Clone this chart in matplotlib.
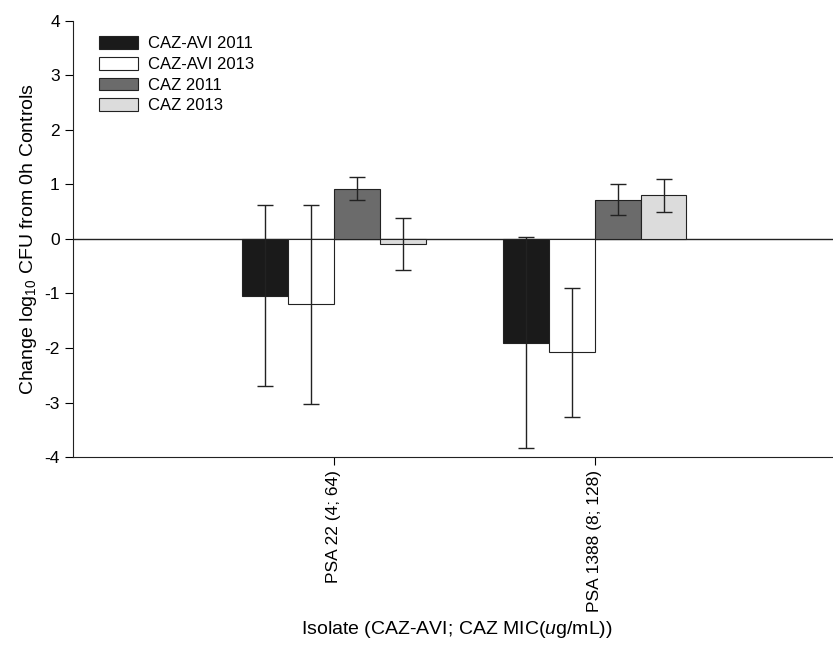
import numpy as np
import matplotlib.pyplot as plt

plt.rcParams['font.family'] = ['Liberation Sans', 'DejaVu Sans']
plt.rcParams['mathtext.fontset'] = 'custom'
plt.rcParams['mathtext.rm'] = 'Liberation Sans'
plt.rcParams['mathtext.it'] = 'Liberation Sans:italic'
plt.rcParams['axes.unicode_minus'] = False

isolates = ["PSA 22 (4; 64)", "PSA 1388 (8; 128)"]
series = ["CAZ-AVI 2011", "CAZ-AVI 2013", "CAZ 2011", "CAZ 2013"]
colors = ["#1a1a1a", "#ffffff", "#6b6b6b", "#dcdcdc"]

caz_avi_2011 = [-1.04, -1.90]
caz_avi_2013 = [-1.20, -2.08]
caz_2011 = [0.92, 0.72]
caz_2013 = [-0.09, 0.80]

err_caz_avi_2011 = [1.66, 1.93]
err_caz_avi_2013 = [1.83, 1.18]
err_caz_2011 = [0.21, 0.28]
err_caz_2013 = [0.48, 0.30]

values = [caz_avi_2011, caz_avi_2013, caz_2011, caz_2013]
errors = [err_caz_avi_2011, err_caz_avi_2013, err_caz_2011, err_caz_2013]

fig = plt.figure(figsize=(8.33, 6.52), dpi=100)
ax = fig.add_axes([0.0876, 0.299, 0.93, 0.669])

x = np.arange(1, len(isolates) + 1)
width = 0.176
offsets = [-1.5, -0.5, 0.5, 1.5]
for vals, errs, col, lab, off in zip(values, errors, colors, series, offsets):
    ax.bar(x + off * width, vals, width, color=col, edgecolor="#222222",
           linewidth=0.8, label=lab, zorder=2)
    ax.errorbar(x + off * width, vals, yerr=errs, fmt="none", ecolor="#222222",
                elinewidth=1, capsize=6, capthick=1, zorder=3)

ax.axhline(0, color="#222222", linewidth=1, zorder=1)

ax.set_xlim(0, 2.97)
ax.set_ylim(-4, 4)
ax.set_yticks(range(-4, 5))
ax.set_xticks(x)
ax.set_xticklabels(isolates, rotation=90, fontsize=12.5)
ax.tick_params(axis="y", labelsize=12.5, direction="out", length=6)
ax.tick_params(axis="x", direction="out", length=6)
for s in ["top", "right"]:
    ax.spines[s].set_visible(False)
for s in ["left", "bottom"]:
    ax.spines[s].set_color("#222222")

ax.set_ylabel("Change log$_{10}$ CFU from 0h Controls", fontsize=14)
fig.text(0.549, 0.034, "Isolate (CAZ-AVI; CAZ MIC($\\mathit{u}$g/mL))",
         fontsize=14, ha="center", va="center")

ax.legend(loc="upper left", bbox_to_anchor=(0.025, 0.98), frameon=False,
          fontsize=12, handlelength=2.35, handleheight=0.8, labelspacing=0.33,
          handletextpad=0.6, borderaxespad=0)

fig.savefig("out.png", dpi=100)
